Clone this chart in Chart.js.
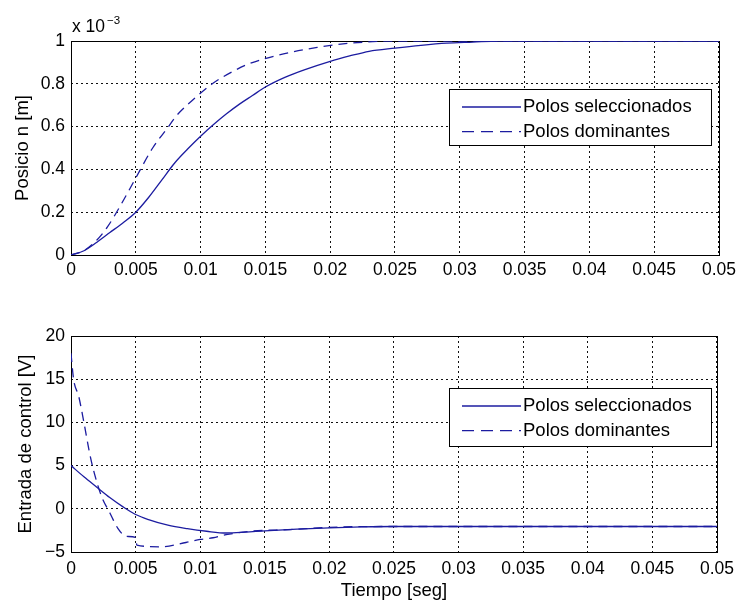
<!DOCTYPE html>
<html>
<head>
<meta charset="utf-8">
<script src="https://cdn.jsdelivr.net/npm/chart.js@4.4.0/dist/chart.umd.min.js"></script>
<style>
body{margin:0;background:#fff;}
.box{position:absolute;left:0;width:741px;}
</style>
</head>
<body>
<div class="box" style="top:0;height:300px;"><canvas id="top" width="741" height="300"></canvas></div>
<div class="box" style="top:300px;height:306px;"><canvas id="bottom" width="741" height="306"></canvas></div>
<script>
// posicion (x 10^-3 m)
let tSelPos = [0, 0.001, 0.002, 0.003, 0.004, 0.005, 0.006, 0.007, 0.008, 0.009, 0.01, 0.011, 0.012, 0.013, 0.014, 0.015, 0.0165, 0.018, 0.02, 0.0215, 0.023, 0.025, 0.027, 0.029, 0.031, 0.033, 0.05];
let ySelPos = [0, 0.02, 0.06, 0.105, 0.15, 0.2, 0.27, 0.35, 0.43, 0.495, 0.555, 0.61, 0.66, 0.705, 0.745, 0.785, 0.83, 0.865, 0.905, 0.93, 0.952, 0.967, 0.98, 0.99, 0.995, 1.0, 1.0];
let tDomPos = [0, 0.001, 0.002, 0.0028, 0.0039, 0.005, 0.0063, 0.0074, 0.0082, 0.0096, 0.0109, 0.0124, 0.0138, 0.0164, 0.019, 0.0216, 0.025, 0.05];
let yDomPos = [0, 0.02, 0.07, 0.13, 0.24, 0.36, 0.5, 0.59, 0.655, 0.735, 0.8, 0.855, 0.895, 0.94, 0.97, 0.99, 1.0, 1.0];

// entrada de control (V)
let tSelU = [0, 0.001, 0.002, 0.003, 0.004, 0.005, 0.006, 0.0075, 0.009, 0.0105, 0.012, 0.0135, 0.015, 0.0175, 0.02, 0.0225, 0.025, 0.05];
let ySelU = [5, 3.7, 2.5, 1.3, 0.25, -0.66, -1.25, -1.9, -2.3, -2.6, -2.8, -2.7, -2.55, -2.35, -2.2, -2.1, -2.05, -2.05];
let tDomU = [0, 0.0002, 0.0006, 0.001, 0.0015, 0.0019, 0.0024, 0.003, 0.0036, 0.0043, 0.005, 0.0051, 0.0069, 0.0089, 0.01, 0.011, 0.012, 0.0139, 0.017, 0.02, 0.024, 0.05];
let yDomU = [18, 15, 13, 10, 6, 3.6, 1.3, -0.45, -2.2, -3.2, -3.3, -4.2, -4.4, -3.9, -3.55, -3.35, -3.0, -2.6, -2.4, -2.15, -2.05, -2.05];

let legendNames = ["Polos seleccionados", "Polos dominantes"];
let xTicks = [0, 0.005, 0.01, 0.015, 0.02, 0.025, 0.03, 0.035, 0.04, 0.045, 0.05];

let blue = "#1c1ca0";
let fontFam = "'Liberation Sans', Arial, Helvetica, sans-serif";

function pts(t, y){
    let out = [];
    for(let i=0;i<t.length;i++){ out.push({x:t[i], y:y[i]}); }
    return out;
}

function fmt(v){
    let s = String(parseFloat(Number(v).toFixed(4)));
    if(s.charAt(0)=="-") s = "\u2212" + s.slice(1);
    return s;
}

// frame + legend drawn over the plot area
let boxPlugin = {
    id: "boxPlugin",
    beforeDatasetsDraw(chart){
        let a = chart.chartArea, ctx = chart.ctx;
        ctx.save();
        ctx.strokeStyle = "#000";
        ctx.lineWidth = 1;
        ctx.strokeRect(Math.round(a.left)+0.5, Math.round(a.top)+0.5, Math.round(a.right-a.left), Math.round(a.bottom-a.top));
        ctx.restore();
    },
    afterDatasetsDraw(chart, args, opts){
        let ctx = chart.ctx;
        let lg = opts.legend;
        ctx.save();
        ctx.fillStyle = "#fff";
        ctx.fillRect(lg.x, lg.y, lg.w, lg.h);
        ctx.strokeStyle = "#000";
        ctx.lineWidth = 1;
        ctx.strokeRect(lg.x+0.5, lg.y+0.5, lg.w, lg.h);
        ctx.font = "18.5px " + fontFam;
        ctx.textBaseline = "middle";
        ctx.fillStyle = "#000";
        for(let i=0;i<legendNames.length;i++){
            let yy = lg.y + 18 + i*24.6;
            ctx.strokeStyle = blue;
            ctx.lineWidth = 1.4;
            ctx.setLineDash(i==0 ? [] : [12, 7]);
            ctx.beginPath();
            ctx.moveTo(lg.x+13, yy);
            ctx.lineTo(lg.x+72, yy);
            ctx.stroke();
            ctx.setLineDash([]);
            ctx.fillText(legendNames[i], lg.x+74, yy);
        }
        if(opts.exponent){
            ctx.textBaseline = "alphabetic";
            ctx.font = "17.5px " + fontFam;
            ctx.fillText("x 10", 72, 32);
            ctx.font = "11.5px " + fontFam;
            ctx.fillText("\u22123", 107, 24);
        }
        ctx.restore();
    }
};

function makeChart(id, dsA, dsB, yMin, yMax, yStep, yTitle, padTop, xHeight, xTitle, tickPad, legendBox, exponent, yTitlePad){
    return new Chart(document.getElementById(id), {
        type: "line",
        data: {
            datasets: [
                {label: legendNames[0], data: dsA, borderColor: blue, borderWidth: 1.3, pointRadius: 0, cubicInterpolationMode: "monotone", fill: false},
                {label: legendNames[1], data: dsB, borderColor: blue, borderWidth: 1.3, borderDash: [9, 6], pointRadius: 0, cubicInterpolationMode: "monotone", fill: false}
            ]
        },
        options: {
            responsive: false,
            animation: false,
            events: [],
            layout: {padding: {top: padTop, right: 21, left: 0, bottom: 0}},
            plugins: {
                legend: {display: false},
                tooltip: {enabled: false},
                boxPlugin: {legend: legendBox, exponent: exponent}
            },
            scales: {
                x: {
                    type: "linear", min: 0, max: 0.05,
                    afterBuildTicks: function(s){ s.ticks = xTicks.map(v=>({value:v})); },
                    afterFit: function(s){ s.height = xHeight; },
                    grid: {color: "#111", drawTicks: false, lineWidth: 1},
                    border: {display: false, dash: [2, 3]},
                    ticks: {padding: tickPad, color: "#000", font: {family: fontFam, size: 17.5}, maxRotation: 0, callback: (v)=>fmt(v)},
                    title: {display: !!xTitle, text: xTitle || "", color: "#000", font: {family: fontFam, size: 18.5}, padding: {top: 0, bottom: 4}}
                },
                y: {
                    min: yMin, max: yMax,
                    ticks: {stepSize: yStep, padding: 6, color: "#000", font: {family: fontFam, size: 17.5}, callback: (v)=>fmt(v)},
                    afterFit: function(s){ s.width = 71; },
                    grid: {color: "#111", drawTicks: false, lineWidth: 1},
                    border: {display: false, dash: [2, 3]},
                    title: {display: true, text: yTitle, color: "#000", font: {family: fontFam, size: 18.5}, padding: {top: yTitlePad, bottom: 0}}
                }
            }
        },
        plugins: [boxPlugin]
    });
}

makeChart("top", pts(tSelPos, ySelPos), pts(tDomPos, yDomPos), 0, 1, 0.2, "Posicio n [m]", 41, 45, null, 5,
    {x: 449, y: 89, w: 262, h: 56}, true, 12);
makeChart("bottom", pts(tSelU, ySelU), pts(tDomU, yDomU), -5, 20, 5, "Entrada de control [V]", 36, 54, "Tiempo [seg]", 7,
    {x: 449, y: 88, w: 262, h: 58}, false, 15);
</script>
</body>
</html>
